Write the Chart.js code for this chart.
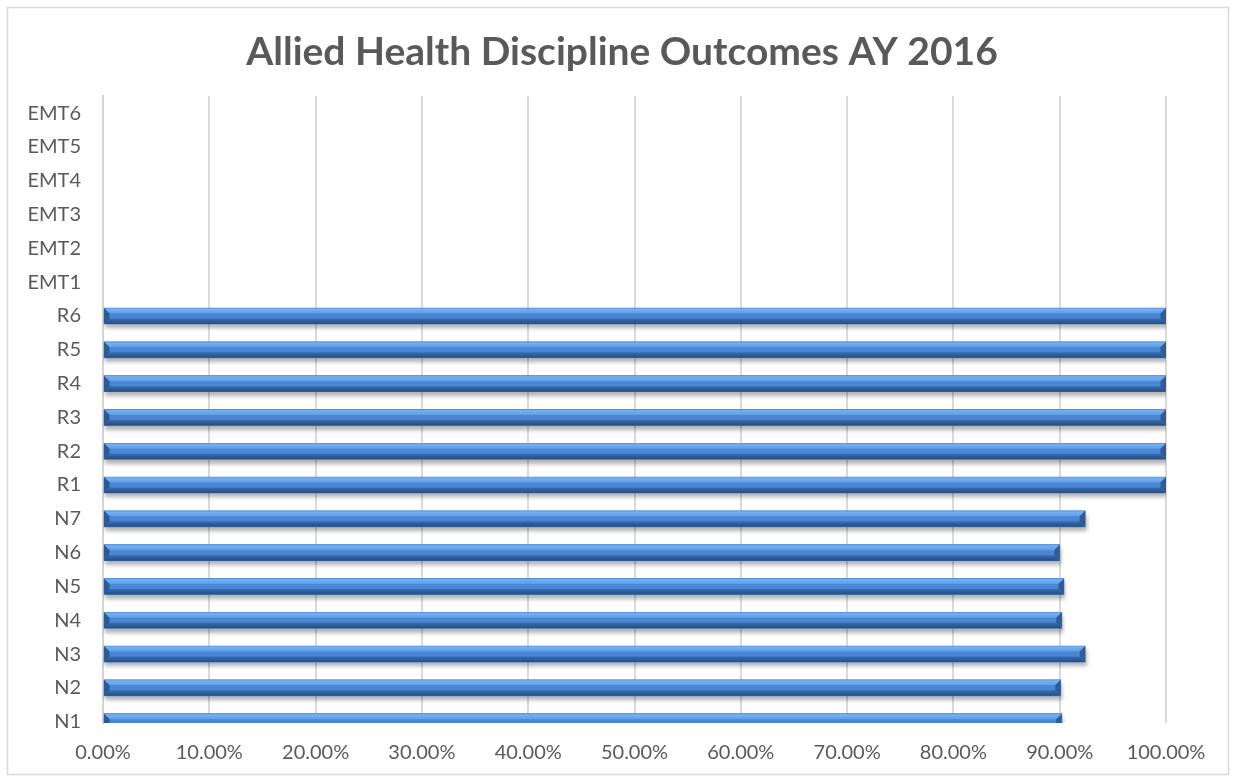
<!DOCTYPE html>
<html>
<head>
<meta charset="utf-8">
<script src="https://cdn.jsdelivr.net/npm/chart.js@4/dist/chart.umd.min.js"></script>
<style>
  html, body { margin: 0; padding: 0; background: #ffffff; }
  #wrap { position: relative; width: 1234px; height: 780px; }
</style>
</head>
<body>
<div id="wrap"><canvas id="chart" width="1234" height="780"></canvas></div>
<script>
// Program categories, bottom to top
const categories = ['N1', 'N2', 'N3', 'N4', 'N5', 'N6', 'N7',
                    'R1', 'R2', 'R3', 'R4', 'R5', 'R6',
                    'EMT1', 'EMT2', 'EMT3', 'EMT4', 'EMT5', 'EMT6'];
// Outcome rate (%) per program; EMT programs have no reported value
const outcomes = [90.2, 90.1, 92.4, 90.2, 90.4, 90.0, 92.4,
                  100, 100, 100, 100, 100, 100,
                  null, null, null, null, null, null];
const xTickValues = [0, 10, 20, 30, 40, 50, 60, 70, 80, 90, 100];
const chartTitle = 'Allied Health Discipline Outcomes AY 2016';

const FONT = 'Lato, "Open Sans", sans-serif';
const TEXT = '#595959';

// White page, thin frame and the centred title
const framePlugin = {
  id: 'frame',
  beforeDraw(chart) {
    const ctx = chart.ctx;
    ctx.save();
    ctx.fillStyle = '#ffffff';
    ctx.fillRect(0, 0, chart.width, chart.height);
    ctx.strokeStyle = '#d9d9d9';
    ctx.lineWidth = 1.5;
    ctx.strokeRect(7.5, 7.5, chart.width - 13, chart.height - 13);
    ctx.fillStyle = TEXT;
    ctx.font = 'bold 39px ' + FONT;
    ctx.textAlign = 'center';
    ctx.textBaseline = 'middle';
    ctx.fillText(chartTitle, 622, 52);
    ctx.restore();
  }
};

// Soft drop shadow under the bars, then bevelled faces on top of each bar
const bevelPlugin = {
  id: 'bevel',
  beforeDatasetsDraw(chart) {
    const ctx = chart.ctx;
    ctx.save();
    ctx.shadowColor = 'rgba(0,0,0,0.30)';
    ctx.shadowBlur = 4;
    ctx.shadowOffsetX = 1;
    ctx.shadowOffsetY = 4;
  },
  afterDatasetsDraw(chart) {
    const ctx = chart.ctx;
    ctx.restore();
    const area = chart.chartArea;
    ctx.save();
    ctx.beginPath();
    ctx.rect(area.left, area.top, area.right - area.left, area.bottom - area.top);
    ctx.clip();
    const meta = chart.getDatasetMeta(0);
    meta.data.forEach((el, i) => {
      if (outcomes[i] === null) return;
      const p = el.getProps(['x', 'y', 'base', 'height'], true);
      const left = Math.min(p.base, p.x), right = Math.max(p.base, p.x);
      const top = p.y - p.height / 2, bottom = p.y + p.height / 2;
      const b = 5.5;
      const poly = (pts, fill) => {
        ctx.beginPath();
        ctx.moveTo(pts[0][0], pts[0][1]);
        for (let k = 1; k < pts.length; k++) ctx.lineTo(pts[k][0], pts[k][1]);
        ctx.closePath();
        ctx.fillStyle = fill;
        ctx.fill();
      };
      // centre face
      ctx.fillStyle = '#4a87d3';
      ctx.fillRect(left, top, right - left, bottom - top);
      // top face (light)
      const gTop = ctx.createLinearGradient(0, top, 0, top + b);
      gTop.addColorStop(0, '#5e9ae0');
      gTop.addColorStop(0.25, '#74b0f2');
      gTop.addColorStop(1, '#5e9de8');
      poly([[left, top], [right, top], [right - b, top + b], [left + b, top + b]], gTop);
      // bottom face (dark)
      const gBot = ctx.createLinearGradient(0, bottom - b, 0, bottom);
      gBot.addColorStop(0, '#3a6cb0');
      gBot.addColorStop(1, '#274c80');
      poly([[left, bottom], [right, bottom], [right - b, bottom - b], [left + b, bottom - b]], gBot);
      // right and left end faces
      poly([[right, top], [right, bottom], [right - b, bottom - b], [right - b, top + b]], '#2f5c98');
      poly([[left, top], [left, bottom], [left + b, bottom - b], [left + b, top + b]], '#2e5a94');
    });
    ctx.restore();
  }
};

new Chart(document.getElementById('chart'), {
  type: 'bar',
  data: {
    datasets: [{
      data: outcomes.map((v, i) => ({ x: v, y: i })),
      backgroundColor: '#4a87d3',
      borderWidth: 0,
      barThickness: 16
    }]
  },
  options: {
    indexAxis: 'y',
    responsive: false,
    animation: false,
    layout: { padding: { left: 0, right: 68, top: 96, bottom: 0 } },
    plugins: {
      legend: { display: false },
      tooltip: { enabled: false },
      title: { display: false }
    },
    scales: {
      x: {
        type: 'linear',
        min: 0,
        max: 100,
        offset: false,
        afterBuildTicks: (scale) => { scale.ticks = xTickValues.map(v => ({ value: v })); },
        afterFit: (scale) => { scale.height = 57; },
        ticks: {
          color: TEXT,
          font: { family: FONT, size: 20 },
          padding: 18,
          maxRotation: 0,
          autoSkip: false,
          callback: (v) => Number(v).toFixed(2) + '%'
        },
        grid: { color: '#dadada', lineWidth: 2, drawTicks: false, offset: false },
        border: { display: false }
      },
      y: {
        type: 'linear',
        min: -0.04,
        max: 18.51,
        offset: false,
        afterBuildTicks: (scale) => { scale.ticks = categories.map((_, i) => ({ value: i })); },
        afterFit: (scale) => { scale.width = 103; },
        ticks: {
          color: TEXT,
          font: { family: FONT, size: 20 },
          padding: 22,
          autoSkip: false,
          callback: (v) => categories[v]
        },
        grid: { display: false, drawTicks: false, offset: false },
        border: { display: true, color: '#d4d4d4', width: 2 }
      }
    }
  },
  plugins: [framePlugin, bevelPlugin]
});
</script>
</body>
</html>
